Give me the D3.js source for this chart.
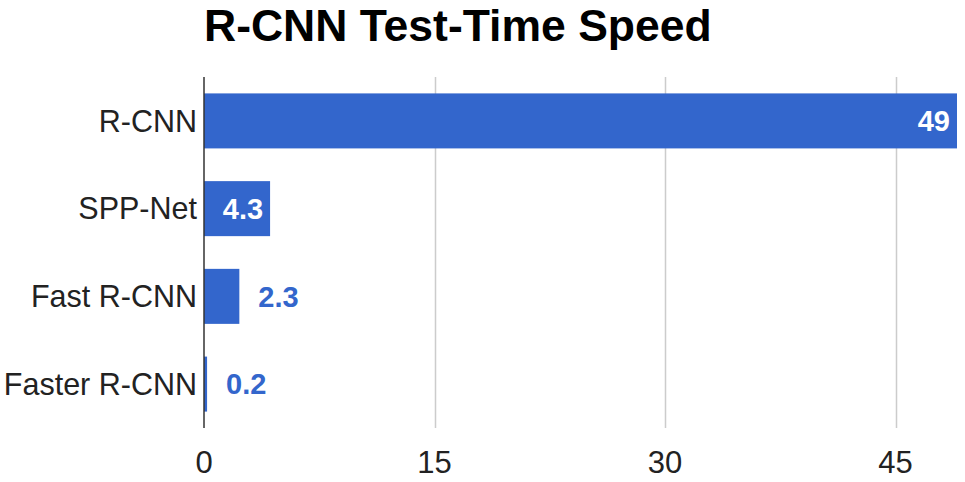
<!DOCTYPE html>
<html>
<head>
<meta charset="utf-8">
<script src="https://cdn.jsdelivr.net/npm/d3@7"></script>
<style>
  html, body { margin: 0; padding: 0; background: #fff; }
  text { font-family: "Liberation Sans", Arial, sans-serif; }
</style>
</head>
<body>
<script>
// chart data
var methods = ["R-CNN", "SPP-Net", "Fast R-CNN", "Faster R-CNN"];
var seconds = [49, 4.3, 2.3, 0.2];
var labels = ["49", "4.3", "2.3", "0.2"];
var tickValues = [0, 15, 30, 45];

var W = 965, H = 482;
var margin = { top: 77, bottom: 54, left: 204, right: 8 };
var barColor = "#3366cc";

var svg = d3.select("body").append("svg")
    .attr("width", W)
    .attr("height", H);

var x = d3.scaleLinear()
    .domain([0, d3.max(seconds)])
    .range([margin.left, W - margin.right]);

var y = d3.scaleBand()
    .domain(methods)
    .range([margin.top, H - margin.bottom])
    .paddingInner(0.373)
    .paddingOuter(0.187);

// title
svg.append("text")
    .attr("x", 204)
    .attr("y", 40.5)
    .attr("font-size", 44.5)
    .attr("font-weight", "bold")
    .attr("fill", "#000")
    .text("R-CNN Test-Time Speed");

// gridlines
svg.append("g").selectAll("line")
    .data(tickValues.filter(function(d) { return d > 0; }))
    .enter()
    .append("line")
    .attr("x1", function(d) { return Math.round(x(d)) + 0.5; })
    .attr("x2", function(d) { return Math.round(x(d)) + 0.5; })
    .attr("y1", margin.top)
    .attr("y2", H - margin.bottom)
    .attr("stroke", "#cccccc")
    .attr("stroke-width", 1.5);

// tick labels
svg.append("g").selectAll("text")
    .data(tickValues)
    .enter()
    .append("text")
    .attr("x", function(d) { return x(d); })
    .attr("y", 473)
    .attr("text-anchor", "middle")
    .attr("font-size", 31)
    .attr("fill", "#222")
    .text(function(d) { return d; });

var rows = methods.map(function(m, i) {
    return { name: m, value: seconds[i], label: labels[i] };
});

// bars
svg.append("g").selectAll("rect")
    .data(rows)
    .enter()
    .append("rect")
    .attr("x", x(0))
    .attr("y", function(d) { return y(d.name); })
    .attr("width", function(d) { return Math.max(1.5, x(d.value) - x(0)); })
    .attr("height", y.bandwidth())
    .attr("fill", barColor);

// zero axis line
svg.append("line")
    .attr("x1", x(0))
    .attr("x2", x(0))
    .attr("y1", margin.top)
    .attr("y2", H - margin.bottom)
    .attr("stroke", "#333")
    .attr("stroke-width", 1.5);

// category labels
svg.append("g").selectAll("text")
    .data(rows)
    .enter()
    .append("text")
    .attr("x", x(0) - 7)
    .attr("y", function(d) { return y(d.name) + y.bandwidth() / 2; })
    .attr("dy", "0.35em")
    .attr("text-anchor", "end")
    .attr("font-size", 30.5)
    .attr("fill", "#222")
    .text(function(d) { return d.name; });

// value labels: inside (white) when they fit, otherwise outside (blue)
svg.append("g").selectAll("text")
    .data(rows)
    .enter()
    .append("text")
    .attr("y", function(d) { return y(d.name) + y.bandwidth() / 2; })
    .attr("dy", "0.35em")
    .attr("font-size", 29)
    .attr("font-weight", "bold")
    .text(function(d) { return d.label; })
    .each(function(d) {
        var t = d3.select(this);
        var w = this.getComputedTextLength();
        var barW = x(d.value) - x(0);
        if (barW > w + 14) {
            t.attr("x", x(d.value) - 7).attr("text-anchor", "end").attr("fill", "#fff");
        } else {
            t.attr("x", x(d.value) + 19).attr("text-anchor", "start").attr("fill", barColor);
        }
    });
</script>
</body>
</html>
